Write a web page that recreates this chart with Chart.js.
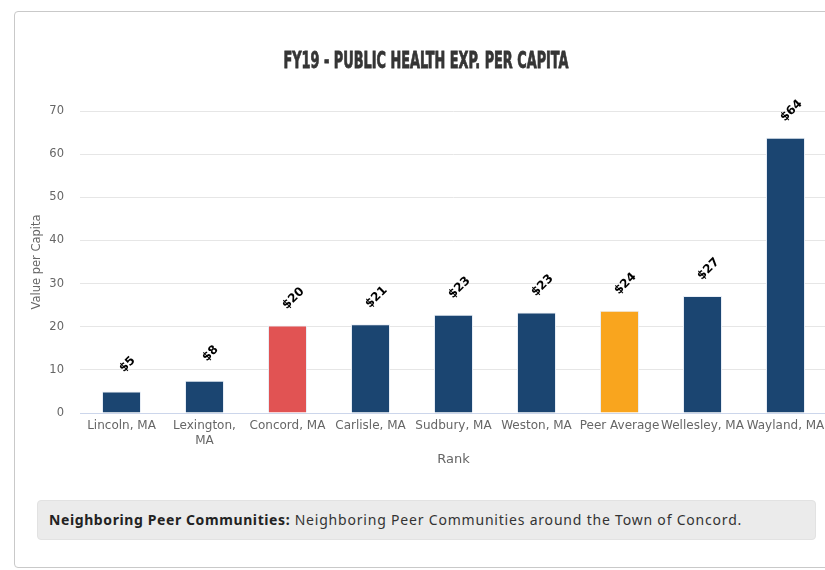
<!DOCTYPE html>
<html>
<head>
<meta charset="utf-8">
<title>FY19 - Public Health Exp. per Capita</title>
<script src="https://cdn.jsdelivr.net/npm/chart.js@4.4.1/dist/chart.umd.min.js"></script>
<style>
    html, body { margin: 0; padding: 0; background: #fff; overflow: hidden; }
    body { width: 825px; height: 570px; position: relative; }
    .frame {
        position: absolute; left: 14px; top: 11px; width: 900px; height: 555px;
        border: 1px solid #c9c9c9; border-radius: 4px;
    }
    .chart-wrap { position: absolute; left: 0; top: 0; width: 840px; height: 480px; }
    .note {
        position: absolute; left: 37px; top: 500px; width: 766px; height: 38px;
        background: #ebebeb; border: 1px solid #e2e2e2; border-radius: 4px;
        font-family: 'Noto Sans', sans-serif; font-size: 14px; color: #333;
        line-height: 38px; padding-left: 11px; box-sizing: content-box;
        white-space: nowrap; letter-spacing: 0.8px;
    }
    .note b { color: #222; letter-spacing: 0.6px; }
</style>
</head>
<body>
<div class="frame"></div>
<div class="chart-wrap"><canvas id="healthChart"></canvas></div>
<div class="note"><b>Neighboring Peer Communities:</b> Neighboring Peer Communities around the Town of Concord.</div>

<script>
// Per capita public health spending, FY19
const towns = ['Lincoln, MA', ['Lexington,', 'MA'], 'Concord, MA', 'Carlisle, MA', 'Sudbury, MA',
               'Weston, MA', 'Peer Average', 'Wellesley, MA', 'Wayland, MA'];
const perCapita = [5.0, 7.5, 20.3, 20.6, 22.8, 23.3, 23.7, 27.1, 63.8];
const yTicks = [0, 10, 20, 30, 40, 50, 60, 70];

const NAVY = '#1b4571';
const RED = '#e15353';
const ORANGE = '#f9a51e';

// Concord is highlighted, peer average in orange, everyone else navy
const barColors = towns.map(t => {
    const name = Array.isArray(t) ? t.join(' ') : t;
    if (name === 'Concord, MA') return RED;
    if (name === 'Peer Average') return ORANGE;
    return NAVY;
});

const chartTitle = 'FY19 - PUBLIC HEALTH EXP. PER CAPITA';

// Narrow poster-style title, squeezed to width
const titlePlugin = {
    id: 'condensedTitle',
    afterDraw(chart) {
        const ctx = chart.ctx;
        ctx.save();
        ctx.font = "bold 23px 'DejaVu Sans Condensed', 'DejaVu Sans', sans-serif";
        const w = ctx.measureText(chartTitle).width;
        const target = 285;
        ctx.translate(426, 62);
        ctx.scale(target / w, 1);
        ctx.fillStyle = '#353535';
        ctx.strokeStyle = '#353535';
        ctx.lineWidth = 0.8;
        ctx.textAlign = 'center';
        ctx.textBaseline = 'middle';
        ctx.fillText(chartTitle, 0, 0);
        ctx.strokeText(chartTitle, 0, 0);
        ctx.restore();
    }
};

// Rotated dollar labels above each bar
const valueLabels = {
    id: 'valueLabels',
    afterDatasetsDraw(chart) {
        const ctx = chart.ctx;
        const meta = chart.getDatasetMeta(0);
        ctx.save();
        ctx.font = "bold 12px 'DejaVu Sans', sans-serif";
        ctx.fillStyle = '#000';
        ctx.textAlign = 'center';
        ctx.textBaseline = 'middle';
        meta.data.forEach((bar, i) => {
            ctx.save();
            ctx.translate(bar.x + 6, bar.y - 27);
            ctx.rotate(-Math.PI / 4);
            ctx.fillText('$' + Math.round(perCapita[i]), 0, 0);
            ctx.restore();
        });
        ctx.restore();
    }
};

const ctx = document.getElementById('healthChart');
new Chart(ctx, {
    type: 'bar',
    data: {
        labels: towns,
        datasets: [{
            data: perCapita,
            backgroundColor: barColors,
            borderColor: 'rgba(230,236,245,0.9)',
            borderWidth: 1,
            categoryPercentage: 1,
            barPercentage: 0.47
        }]
    },
    options: {
        responsive: true,
        maintainAspectRatio: false,
        animation: false,
        layout: { padding: { top: 111, left: 0, right: 13, bottom: 0 } },
        plugins: {
            legend: { display: false },
            tooltip: { enabled: false }
        },
        scales: {
            x: {
                grid: { display: false, drawTicks: false },
                border: { color: '#ccd6eb', width: 1 },
                ticks: {
                    autoSkip: false, maxRotation: 0, padding: 6,
                    color: '#666', font: { family: "'DejaVu Sans', sans-serif", size: 12 }
                },
                title: {
                    display: true, text: 'Rank', color: '#666',
                    font: { family: "'DejaVu Sans', sans-serif", size: 13 },
                    padding: { top: 0, bottom: 13 }
                },
                afterFit(scale) { scale.height = 67; }
            },
            y: {
                min: 0, max: 70,
                afterBuildTicks(scale) { scale.ticks = yTicks.map(v => ({ value: v })); },
                grid: { color: '#e6e6e6', drawTicks: false },
                border: { display: false },
                ticks: {
                    padding: 16, color: '#666',
                    font: { family: "'DejaVu Sans', sans-serif", size: 11.5 }
                },
                title: {
                    display: true, text: 'Value per Capita', color: '#666',
                    font: { family: "'DejaVu Sans', sans-serif", size: 11.5 },
                    padding: { top: 30, bottom: 0 }
                },
                afterFit(scale) { scale.width = 80; }
            }
        }
    },
    plugins: [titlePlugin, valueLabels]
});
</script>
</body>
</html>
